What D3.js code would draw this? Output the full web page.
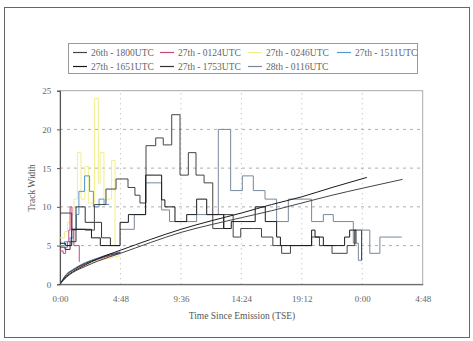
<!DOCTYPE html>
<html><head><meta charset="utf-8">
<script src="https://cdn.jsdelivr.net/npm/d3@7"></script>
<style>body{margin:0;background:#fff}svg{display:block}</style>
</head><body><svg id="c" width="473" height="341"></svg>
<script>
// ---- data (hours since emission, track width) ----
const seriesNames = ["26th - 1800UTC","27th - 0124UTC","27th - 0246UTC","27th - 1511UTC","27th - 1651UTC","27th - 1753UTC","28th - 0116UTC"];
const xTickHours = [0,4.8,9.6,14.4,19.2,24,28.8];
const xTickLabels = ["0:00","4:48","9:36","14:24","19:12","0:00","4:48"];
const yTicks = [0,5,10,15,20,25];

const steps26_1800 = [[0,9.2],[0.93,7.1],[2.0,7.0],[2.73,10.3],[3.65,12.3],[4.45,13.6],[5.4,12.5],[5.95,11.5],[6.35,10.5],[6.83,17.9],[7.6,18.9],[8.2,18.0],[8.87,21.9],[9.53,14.1],[10.19,17.0],[10.8,14.1],[11.44,13.1],[12.13,7.2],[13.0,9.0],[13.75,6.1],[14.35,7.2],[15.35,7.2],[16.0,6.1],[16.9,5.0],[17.6,4.0],[18.3,5.0],[19.98,6.1],[20.6,5.0],[21.6,4.0],[22.8,5.0],[23.4,7.0],[23.95,3.1]];
const steps27_0124 = [[0,4.3],[0.25,4.0],[0.45,4.8],[0.6,5.5],[0.7,7.0],[0.8,10.0],[0.95,7.0],[1.1,5.0],[1.3,5.0],[1.53,2.9]];
const steps27_0246 = [[0,6.0],[0.35,6.8],[0.6,8.0],[0.9,9.0],[1.1,11.0],[1.38,17.0],[1.67,11.0],[1.98,15.2],[2.25,10.5],[2.73,24.0],[3.04,13.0],[3.18,17.0],[3.49,11.0],[4.1,16.0],[4.37,5.0],[4.77,5.0]];
const steps27_1511 = [[0,5.0],[0.35,5.5],[0.8,6.0],[1.05,7.0],[1.3,9.0],[1.5,12.0],[1.95,14.0],[2.35,12.0],[2.65,10.0],[3.1,11.0],[3.5,10.3],[3.9,10.3]];
const steps27_1651 = [[0,5.3],[0.45,5.0],[0.93,7.1],[1.85,7.1],[2.5,6.0],[3.2,5.0],[4.77,8.0],[5.43,9.0],[6.8,14.1],[8.07,10.9],[8.33,10.0],[9.13,8.1],[10.06,9.0],[10.85,11.0],[11.65,9.0],[13.0,7.2],[13.6,8.1],[15.5,10.0],[16.3,8.1],[17.2,6.1],[17.5,5.0],[19.98,7.0],[20.25,6.1],[20.91,5.0],[22.6,6.1],[23.0,7.0],[23.5,5.3]];
const steps27_1753 = [[0,4.8],[0.4,4.5],[0.8,5.5],[1.27,10.0],[2.0,8.0],[2.8,8.0],[3.3,6.0],[4.0,5.0],[4.77,5.0]];
const steps28_0116 = [[4.77,7.1],[5.4,7.1],[5.9,9.0],[6.8,13.1],[8.07,9.6],[8.7,8.1],[9.8,8.1],[10.85,9.0],[11.65,9.0],[12.57,20.0],[13.55,12.1],[14.48,14.0],[15.35,12.1],[16.28,11.0],[17.2,8.1],[18.13,11.0],[19.98,8.1],[20.91,9.0],[21.7,8.1],[23.29,5.3],[23.69,3.1],[23.95,7.0],[24.6,4.0],[25.4,6.1],[27.13,6.1]];

const curveBlue    = [[0,0],[0.5,1.3],[1,1.9],[2,2.8],[3,3.4],[4,3.9],[4.8,4.2]];
const curveMagenta = [[0,0],[0.5,1.2],[1,1.8],[2,2.6],[3,3.2],[4,3.7],[4.8,4.0]];
const curveYellow  = [[0,0],[0.5,1.0],[1,1.6],[2,2.4],[3,3.0],[4,3.4],[4.8,3.7]];
const curveDark    = [[0,0],[0.5,1.2],[1,1.8],[2,2.7],[3,3.3],[4,3.8],[4.8,4.1]];
const curveUpper   = [[0,0],[0.5,1.0],[1,1.6],[2,2.5],[3,3.3],[4.8,4.4],[7.2,5.8],[9.6,7.1],[12,8.2],[14.4,9.2],[16.8,10.3],[19.2,11.3],[21.6,12.5],[24.36,13.8]];
const curveLower   = [[0,0],[0.5,0.9],[1,1.5],[2,2.3],[3,3.0],[4.8,4.0],[7.2,5.4],[9.6,6.7],[12,7.7],[14.4,8.6],[16.8,9.5],[19.2,10.5],[21.6,11.5],[24,12.4],[27.2,13.55]];

// ---- styles ----
const colors = ["#454545","#c8487e","#f2ee88","#5597cf","#1a1a1a","#333333","#78889a"];

const svg = d3.select("#c");
const x = d3.scaleLinear().domain([0,28.8]).range([60,422.7]);
const y = d3.scaleLinear().domain([0,25]).range([284.3,90.7]);
const font = "Liberation Serif, DejaVu Serif, serif";

// outer frame
svg.append("rect").attr("x",4.5).attr("y",7.5).attr("width",465).attr("height",330)
  .attr("fill","none").attr("stroke","#666").attr("stroke-width",1);

// plot border (top/right)
svg.append("rect").attr("x",x(0)).attr("y",y(25)).attr("width",x(28.8)-x(0)).attr("height",y(0)-y(25))
  .attr("fill","none").attr("stroke","#aaa").attr("stroke-width",1);

// gridlines
svg.append("g").selectAll("line").data(yTicks.filter(d=>d>0&&d<25)).join("line")
  .attr("x1",x(0)).attr("x2",x(28.8)).attr("y1",d=>y(d)).attr("y2",d=>y(d))
  .attr("stroke","#999").attr("stroke-width",0.8).attr("stroke-dasharray","3,4");
svg.append("g").selectAll("line").data(xTickHours.filter(d=>d>0&&d<28.8)).join("line")
  .attr("x1",d=>x(d)).attr("x2",d=>x(d)).attr("y1",y(0)).attr("y2",y(25))
  .attr("stroke","#aaa").attr("stroke-width",0.9).attr("stroke-dasharray","1,4");

// axes
const yAxis = d3.axisLeft(y).tickValues(yTicks).tickSize(3).tickFormat(d=>d);
const gy = svg.append("g").attr("transform",`translate(${x(0)},0)`).call(yAxis);
const xAxis = d3.axisBottom(x).tickValues(xTickHours).tickSize(0).tickFormat((d,i)=>xTickLabels[i]);
const gx = svg.append("g").attr("transform",`translate(0,${y(0)})`).call(xAxis);
[gx,gy].forEach(g=>{
  g.attr("font-family",font);
  g.select(".domain").attr("stroke","#555").attr("stroke-width",1.1);
  g.selectAll(".tick line").attr("stroke","#555");
  g.selectAll("text").attr("font-family",font).attr("font-size",9).attr("fill","#666");
});
gx.selectAll("text").attr("dy","1.6em");
gy.selectAll("text").attr("dx","-0.3em");

// axis titles
svg.append("text").attr("x",242).attr("y",319).attr("text-anchor","middle")
  .attr("font-family",font).attr("font-size",9.5).attr("fill","#555").text("Time Since Emission (TSE)");
svg.append("text").attr("transform","translate(35,188) rotate(-90)").attr("text-anchor","middle")
  .attr("font-family",font).attr("font-size",9.5).attr("fill","#555").text("Track Width");

// lines
const lineCurve = d3.line().x(d=>x(d[0])).y(d=>y(d[1])).curve(d3.curveMonotoneX);
const lineStep = d3.line().x(d=>x(d[0])).y(d=>y(d[1])).curve(d3.curveStepAfter);
const g = svg.append("g").attr("fill","none").attr("stroke-width",1);

const stepSets = [
  [steps27_0246,2],[steps27_1511,3],[steps27_0124,1],[steps28_0116,6],
  [steps27_1753,5],[steps26_1800,0],[steps27_1651,4]
];
const curveSets = [[curveYellow,2],[curveMagenta,1],[curveBlue,3],[curveDark,5],[curveUpper,4],[curveLower,0]];

stepSets.forEach(([d,c])=>g.append("path").attr("d",lineStep(d)).attr("stroke",colors[c]));
curveSets.forEach(([d,c])=>g.append("path").attr("d",lineCurve(d)).attr("stroke",colors[c]));

// legend
const lg = svg.append("g");
lg.append("rect").attr("x",68.5).attr("y",43.5).attr("width",349).attr("height",30)
  .attr("fill","#fff").attr("stroke","#999");
const legX = [73,160,248,337];
const legY = [52.5,66.5];
seriesNames.forEach((n,i)=>{
  const lx = legX[i%4], ly = legY[Math.floor(i/4)];
  lg.append("line").attr("x1",lx).attr("x2",lx+14).attr("y1",ly).attr("y2",ly)
    .attr("stroke",colors[i]).attr("stroke-width",1.2);
  lg.append("text").attr("x",lx+18).attr("y",ly+3.3).attr("font-family",font)
    .attr("font-size",9.5).attr("fill","#666").text(n);
});
</script></body></html>
